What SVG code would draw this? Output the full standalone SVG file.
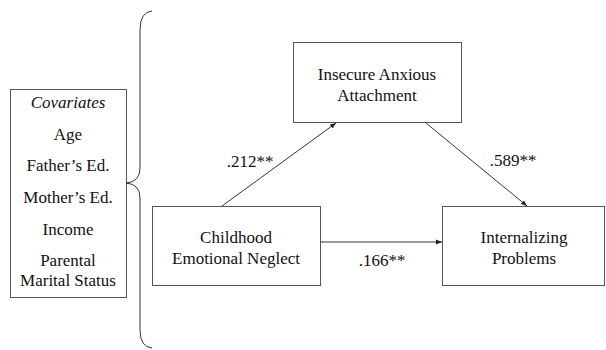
<svg xmlns="http://www.w3.org/2000/svg" width="606" height="350" viewBox="0 0 606 350">
<style>
.box{fill:#fff;stroke:#555;stroke-width:1}
.lbl{font-family:'Liberation Serif',serif;font-size:17px;fill:#111;text-anchor:middle}
.edge{stroke:#333;stroke-width:1;fill:none}
</style>
<defs>
<marker id="ah" viewBox="0 0 10 10" refX="10" refY="5" markerWidth="6" markerHeight="6" markerUnits="userSpaceOnUse" orient="auto">
<path d="M0,1 L10,5 L0,9 z" fill="#222"/>
</marker>
</defs>
<rect width="606" height="350" fill="#fff"/>
<g id="covariates">
<rect class="box" x="10.5" y="89.5" width="116" height="208"/>
<text class="lbl" x="68" y="108" font-style="italic">Covariates</text>
<text class="lbl" x="68" y="140">Age</text>
<text class="lbl" x="68" y="171">Father’s Ed.</text>
<text class="lbl" x="68" y="203">Mother’s Ed.</text>
<text class="lbl" x="68" y="235">Income</text>
<text class="lbl" x="68" y="266">Parental</text>
<text class="lbl" x="68" y="286">Marital Status</text>
</g>
<g id="brace">
<path class="edge" d="M152,11 Q140,12 140,30 L140,168 Q140,182 126,183 Q140,184 140,198 L140,330 Q140,347 152,348"/>
</g>
<g id="attachment">
<rect class="box" x="293.5" y="42.5" width="168" height="80"/>
<text class="lbl" x="377" y="80">Insecure Anxious</text>
<text class="lbl" x="377" y="101">Attachment</text>
</g>
<g id="neglect">
<rect class="box" x="152.5" y="206.5" width="168" height="79"/>
<text class="lbl" x="236" y="243">Childhood</text>
<text class="lbl" x="236" y="264">Emotional Neglect</text>
</g>
<g id="internalizing">
<rect class="box" x="442.5" y="206.5" width="162" height="79"/>
<text class="lbl" x="524" y="243">Internalizing</text>
<text class="lbl" x="524" y="264">Problems</text>
</g>
<g id="connectors">
<line class="edge" x1="222" y1="206" x2="336" y2="123" marker-end="url(#ah)"/>
<line class="edge" x1="426" y1="123" x2="527" y2="206" marker-end="url(#ah)"/>
<line class="edge" x1="321" y1="242" x2="442" y2="242" marker-end="url(#ah)"/>
<text class="lbl" x="250" y="167">.212**</text>
<text class="lbl" x="513" y="166">.589**</text>
<text class="lbl" x="382" y="266">.166**</text>
</g>
</svg>
